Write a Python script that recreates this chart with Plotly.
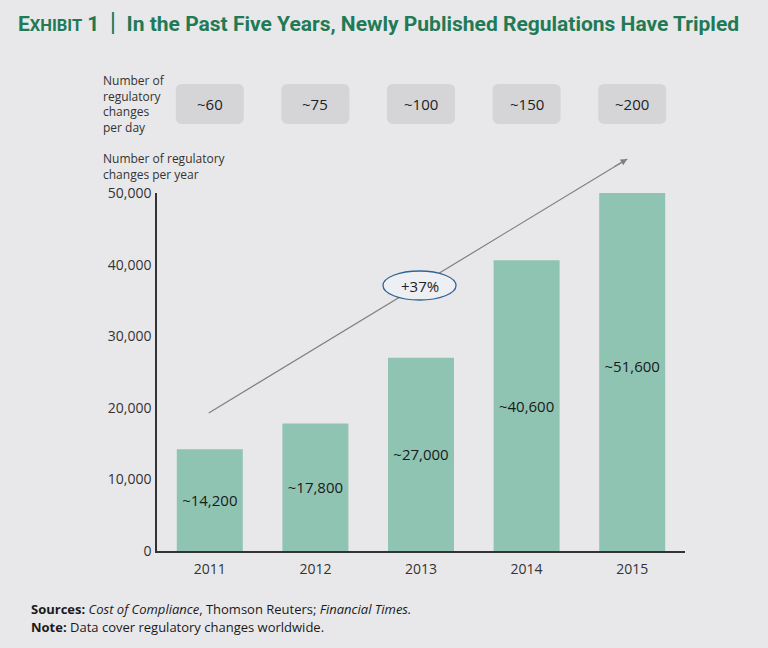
import plotly.graph_objects as go

# ---- data ----
years = ["2011", "2012", "2013", "2014", "2015"]
per_year = [14200, 17800, 27000, 40600, 51600]
per_day = [60, 75, 100, 150, 200]
y_ticks = [0, 10000, 20000, 30000, 40000, 50000]
growth_label = "+37%"

# ---- layout helpers (pixel geometry of the 768x648 canvas) ----
W, H = 768, 648
PL, PR, PT, PB = 157, 685, 193, 551   # plot area in px


def py(ypx):  # pixel y -> paper y
    return (PB - ypx) / (PB - PT)


def px(xpx):  # pixel x -> paper x
    return (xpx - PL) / (PR - PL)


BG = "#e8e8ea"
BAR = "#8fc4b3"
GREEN = "#1f7a55"
TXT = "#222222"
FONT = "Open Sans"

idx = list(range(len(years)))

fig = go.Figure()
fig.add_trace(go.Bar(
    x=idx, y=per_year, width=0.625,
    marker=dict(color=BAR, line=dict(width=0)),
    text=["~" + f"{v:,}" for v in per_year],
    textposition="inside", insidetextanchor="middle", textangle=0,
    textfont=dict(family=FONT, size=15, color="#1a1a1a"),
    hoverinfo="skip",
))

shapes = []
annotations = []

# rounded boxes with per-day numbers
hw = 0.322
ry0, ry1 = py(124), py(84)
rx, rr = 0.06, 0.018
for i, d in zip(idx, per_day):
    x0, x1 = i - hw, i + hw
    path = (f"M {x0+rx},{ry0} L {x1-rx},{ry0} Q {x1},{ry0} {x1},{ry0+rr} "
            f"L {x1},{ry1-rr} Q {x1},{ry1} {x1-rx},{ry1} L {x0+rx},{ry1} "
            f"Q {x0},{ry1} {x0},{ry1-rr} L {x0},{ry0+rr} Q {x0},{ry0} {x0+rx},{ry0} Z")
    shapes.append(dict(type="path", path=path, xref="x", yref="paper",
                       fillcolor="#d5d5d8", line=dict(width=0), layer="below"))
    annotations.append(dict(x=i, y=py(104), xref="x", yref="paper",
                            text=f"~{d}", showarrow=False,
                            xanchor="center", yanchor="middle",
                            font=dict(family=FONT, size=15, color=TXT)))

# trend arrow line
tail_x, tail_y = -0.01, py(413)
head_x, head_y = 3.953, py(159)
shapes.append(dict(type="line", xref="x", yref="paper",
                   x0=tail_x, y0=tail_y, x1=head_x, y1=head_y,
                   line=dict(color="#808080", width=1.2), layer="above"))
annotations.append(dict(x=head_x, y=head_y, xref="x", yref="paper",
                        ax=-14, ay=8.5, showarrow=True, arrowhead=2,
                        arrowsize=1.1, arrowwidth=1.2, arrowcolor="#808080",
                        text=""))

# ellipse with growth label
ex, ey = 1.986, 37080
shapes.append(dict(type="circle", xref="x", yref="y",
                   xsizemode="pixel", xanchor=ex, x0=-36.5, x1=36.5,
                   ysizemode="pixel", yanchor=ey, y0=-14.5, y1=14.5,
                   fillcolor="#eeeff3", line=dict(color="#2f6496", width=1.3),
                   layer="above"))
annotations.append(dict(x=ex, y=ey, xref="x", yref="y", text=growth_label,
                        showarrow=False,
                        font=dict(family=FONT, size=15, color=TXT)))

# left labels
annotations.append(dict(x=px(101), y=py(70), xref="paper", yref="paper",
                        text="Number of<br>regulatory<br>changes<br>per day",
                        showarrow=False, xanchor="left", yanchor="top", align="left",
                        font=dict(family=FONT, size=12, color="#333333")))
annotations.append(dict(x=px(101), y=py(148), xref="paper", yref="paper",
                        text="Number of regulatory<br>changes per year",
                        showarrow=False, xanchor="left", yanchor="top", align="left",
                        font=dict(family=FONT, size=12, color="#333333")))

# footer
annotations.append(dict(x=px(29), y=py(609), xref="paper", yref="paper",
                        text="<b>Sources:</b> <i>Cost of Compliance</i>, Thomson Reuters; <i>Financial Times.</i>",
                        showarrow=False, xanchor="left", yanchor="middle",
                        font=dict(family=FONT, size=13, color="#1a1a1a")))
annotations.append(dict(x=px(29), y=py(627), xref="paper", yref="paper",
                        text="<b>Note:</b> Data cover regulatory changes worldwide.",
                        showarrow=False, xanchor="left", yanchor="middle",
                        font=dict(family=FONT, size=13, color="#1a1a1a")))

fig.update_layout(
    width=W, height=H,
    margin=dict(l=PL, r=W - PR, t=PT, b=H - PB, pad=0),
    paper_bgcolor=BG, plot_bgcolor=BG,
    showlegend=False,
    title=dict(
        text=("<b>E<span style='font-size:16.5px'>XHIBIT</span> 1</b>&nbsp;&nbsp;"
              "<span style='font-weight:normal;font-size:26px;'>|</span>&nbsp;&nbsp;"
              "<b>In the Past Five Years, Newly Published Regulations Have Tripled</b>"),
        x=18 / W, y=1 - 24 / H, xanchor="left", yanchor="middle",
        font=dict(family="Roboto", size=21, color=GREEN),
    ),
    xaxis=dict(range=[-0.5, 4.5], tickvals=idx, ticktext=years,
               showline=True, linecolor="#333333", linewidth=1.5,
               showgrid=False, zeroline=False, ticks="",
               ticklabelstandoff=4,
               tickfont=dict(family=FONT, size=14, color="#333333"),
               fixedrange=True),
    yaxis=dict(range=[0, 50000], tickvals=y_ticks, tickformat=",",
               showline=True, linecolor="#333333", linewidth=1.5,
               showgrid=False, zeroline=False, ticks="",
               ticklabelstandoff=1,
               tickfont=dict(family=FONT, size=14, color="#333333"),
               fixedrange=True),
    shapes=shapes,
    annotations=annotations,
)

fig.write_html(
    "out.html",
    config={"displayModeBar": False},
    post_script=f"document.body.style.margin='0';document.body.style.background='{BG}';",
)
